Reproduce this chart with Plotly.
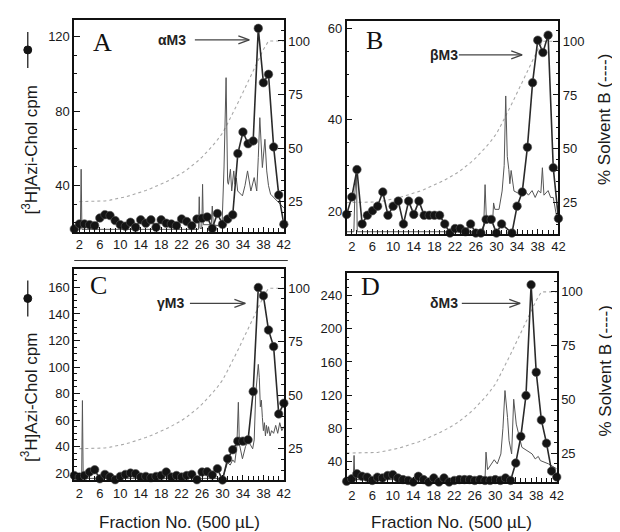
import plotly.graph_objects as go

# ---------------- data ----------------
fractions = list(range(1, 43))

cpm_A = [16.7, 19.4, 19.4, 19.0, 18.5, 22.6, 24.4, 23.9, 21.2, 19.0,
         18.2, 20.3, 17.6, 21.6, 19.8, 21.6, 17.6, 21.6, 19.8, 19.4,
         18.5, 22.1, 20.7, 18.5, 22.0, 22.4, 23.2, 17.0, 25.0, 19.2,
         22.0, 24.3, 57.2, 68.8, 62.5, 64.0, 124.5, 95.3, 99.8, 60.8,
         35.0, 19.2]
cpm_B = [19.3, 23.1, 29.1, 17.2, 19.1, 20.1, 21.1, 24.2, 19.1, 21.1,
         22.2, 17.2, 22.2, 19.3, 22.2, 19.1, 19.1, 19.1, 19.1, 17.2,
         15.2, 16.2, 16.2, 15.5, 17.2, 15.2, 15.2, 18.2, 18.2, 15.2,
         17.2, None, 15.2, 21.1, 24.2, 34.0, 48.1, 57.4, 54.7, 58.5,
         29.5, 18.4]
cpm_C = [18.2, 17.0, 18.2, 20.8, 22.5, 15.7, 19.0, 17.0, 15.0, 17.5,
         19.0, 20.0, 19.5, 17.0, 17.5, 16.5, 17.5, 18.2, 20.8, 17.0,
         18.2, 17.0, 18.2, 19.0, 15.0, 20.8, 21.0, 18.5, 23.3, 14.8,
         30.8, 37.6, 44.1, 44.1, 45.1, 81.5, 160.0, 153.7, 127.9, 115.4,
         64.6, 72.7]
cpm_D = [16, 19, 25, 22, 21, 17, 21, 20, 23, 24,
         20, 18, 17, 15, 22, 18, 15, 20, 15, 20,
         15, 17, 18, 18, 18, 17, 18, 17, 17, 18,
         17, 20, 17, 38, 70.1, 119.5, 253.3, 147.6, 90.1, 62,
         28.3, 21.1]

solvent_B = [25, 25, 25, 25, 25, 25, 25.3, 25.7, 26.1, 26.6,
             27.2, 27.9, 28.6, 29.3, 30.2, 31.1, 32.1, 33.1, 34.3, 35.5,
             36.8, 38.2, 39.8, 41.6, 43.6, 45.8, 48.2, 50.9, 53.8, 57.0,
             61.5, 66.0, 71.0, 76.0, 81.0, 86.0, 91.0, 96.0, 100, 100,
             100, 100]

abs_A_x = [1, 2.2, 2.35, 2.5, 25.3, 25.45, 25.6, 25.95, 26.1, 26.25, 27.8, 28.0, 28.2,
           29.9, 30.3, 30.7, 31.0, 31.16, 31.55, 31.8, 32.2, 32.45, 32.7, 32.97,
           33.9, 34.4, 34.9, 35.2, 35.55, 36.2, 36.7, 37.0, 37.3, 37.8, 38.3, 38.65,
           39.0, 39.4, 40.4, 41.4, 42.0]
abs_A_y = [16.5, 16.5, 48.8, 16.5, 16.5, 34, 17, 17, 40.7, 19, 19, 29, 19,
           18, 50, 98, 42, 40.7, 48.8, 37.1, 47.9, 40.7, 44, 37.1,
           34.5, 40, 47.9, 42, 37.1, 44.3, 37.1, 55, 76.5, 49.7, 64.9, 47.9,
           40, 35.4, 32.7, 30, 28]

abs_B_x = [1, 2.4, 2.6, 2.9, 3.05, 27.5, 27.8, 28.05, 29.3, 29.45, 29.7, 30.5,
           31.1, 31.5, 31.8, 32.1, 32.4, 32.6, 32.85, 33.1, 33.4, 34.3, 35.0, 35.5,
           36.2, 36.9, 37.5, 38.1, 38.6, 38.9, 39.2, 40.0, 40.5, 41.0, 41.7, 42.0]
abs_B_y = [15.5, 15.5, 24, 29, 15.5, 15.5, 25.8, 18.5, 18.5, 21.8, 20.4, 20.4,
           24.4, 30, 45.2, 32, 29.1, 26, 28.9, 27, 24.4, 23.9, 23.5, 24.5,
           23.5, 24.5, 23.0, 24.5, 24.0, 29.5, 23.5, 24.5, 23.0, 23.0, 18.5, 18.0]

abs_C_x = [1, 2.45, 2.6, 2.75, 30.0, 30.5, 31.0, 31.5, 32.0, 32.4, 32.8, 33.1, 33.3, 33.9,
           34.5, 35.0, 35.4, 35.9, 36.2, 36.5, 37.0, 37.2, 37.4, 37.6, 37.8, 38.0,
           38.2, 38.4, 38.6, 38.8, 39.0, 39.3, 39.6, 40.0, 40.4, 40.8, 41.2, 41.6, 42.0]
abs_C_y = [16, 16, 74.7, 16, 16, 22, 28, 26, 30, 28, 40, 73.4, 42, 30.8,
           40, 44.5, 42, 38.3, 45, 80, 102, 92, 70, 75, 62, 52,
           58, 48, 56, 50, 55, 48, 52, 50, 56, 50, 58, 52, 55]

abs_D_x = [1, 2.3, 2.45, 2.6, 28.0, 28.2, 28.5, 28.8, 29.8, 30.4, 31.1, 31.5, 31.9, 32.4,
           32.7, 33.2, 33.6, 34.1, 34.6, 35.2, 36.2, 37.2, 37.8, 38.4, 38.8, 40.4, 42.0]
abs_D_y = [18, 18, 47.2, 18, 18, 51.2, 30, 33, 42, 37, 49, 80, 125.5, 93,
           65, 49, 115, 85, 71, 57, 53, 49, 43, 46, 41, 37, 31]

panel_letters = ["A", "B", "C", "D"]
peak_labels = ["αM3", "βM3", "γM3", "δM3"]

# ---------------- layout helpers ----------------
W, H = 620, 532
def px(x):
    return x / W
def py(y):
    return 1 - y / H

# frame boxes in pixels: (left, top, right, bottom)
boxes = [(67, 12, 279, 224), (342.5, 13, 556.7, 226),
         (67, 261, 279, 473), (342.5, 265, 555, 475)]
left_ranges = [[15.3, 129], [15.1, 61.6], [14.7, 174.3], [15, 268]]
left_dtick = [40, 20, 20, 40]
left_minor = [10, 5, 5, 10]
right_ranges = [[11, 109.8], [10.6, 109.4], [10.3, 109.2], [11.5, 109]]
grad_start = [2, 1, 2, 1]

cpms = [cpm_A, cpm_B, cpm_C, cpm_D]
abs_x = [abs_A_x, abs_B_x, abs_C_x, abs_D_x]
abs_y = [abs_A_y, abs_B_y, abs_C_y, abs_D_y]

FONT = "Liberation Sans, Arial, sans-serif"
fig = go.Figure()
layout = dict(width=W, height=H, margin=dict(l=0, r=0, t=0, b=0),
              paper_bgcolor="white", plot_bgcolor="white", showlegend=False,
              font=dict(family=FONT, size=13, color="#1a1a1a"))

for i in range(4):
    xa = "x" if i == 0 else f"x{i+1}"
    yr = f"y{2*i+1}" if i > 0 else "y"      # right axis (base)
    yl = f"y{2*i+2}"                         # left axis (overlay)
    l, t, r, b = boxes[i]
    xkey = "xaxis" if i == 0 else f"xaxis{i+1}"
    yrkey = "yaxis" if i == 0 else f"yaxis{2*i+1}"
    ylkey = f"yaxis{2*i+2}"
    layout[xkey] = dict(domain=[px(l), px(r)], range=[1, 42], anchor=yr,
                        tick0=2, dtick=4, ticks="inside", ticklen=5, tickwidth=1.2,
                        tickcolor="#111", showline=True, linewidth=1.6, linecolor="#111",
                        mirror=True, showgrid=False, zeroline=False,
                        tickfont=dict(size=13, family=FONT),
                        minor=dict(dtick=1, tick0=1, ticks="inside", ticklen=4,
                                   tickwidth=1, tickcolor="#111"))
    layout[yrkey] = dict(domain=[py(b), py(t)], range=right_ranges[i], anchor=xa,
                         side="right", tick0=0, dtick=25, ticks="inside", ticklen=6,
                         tickwidth=1.2, tickcolor="#111", showline=True, linewidth=1.6,
                         linecolor="#111", showgrid=False, zeroline=False,
                         tickfont=dict(size=13, family=FONT),
                         minor=dict(dtick=5, tick0=0, ticks="inside", ticklen=3,
                                    tickwidth=1, tickcolor="#111"))
    layout[ylkey] = dict(overlaying=yr, range=left_ranges[i], anchor=xa, side="left",
                         tick0=0, dtick=left_dtick[i], ticks="inside", ticklen=6,
                         tickwidth=1.2, tickcolor="#111", showline=True, linewidth=1.6,
                         linecolor="#111", showgrid=False, zeroline=False,
                         tickfont=dict(size=13, family=FONT),
                         minor=dict(dtick=left_minor[i], tick0=0, ticks="inside",
                                    ticklen=3, tickwidth=1, tickcolor="#111"))

    s = grad_start[i]
    fig.add_trace(go.Scatter(x=fractions[s-1:], y=solvent_B[s-1:], mode="lines",
                             line=dict(color="#a8a8a8", width=1.1, dash="dot"),
                             xaxis=xa, yaxis=yr))
    fig.add_trace(go.Scatter(x=abs_x[i], y=abs_y[i], mode="lines",
                             line=dict(color="#555", width=1),
                             xaxis=xa, yaxis=yl))
    fig.add_trace(go.Scatter(x=fractions, y=cpms[i], mode="lines+markers",
                             connectgaps=True, cliponaxis=False,
                             line=dict(color="#2a2a2a", width=1.6),
                             marker=dict(size=8.5, color="#141414",
                                         line=dict(color="#555", width=0.6)),
                             xaxis=xa, yaxis=yl))

annotations = []
shapes = []

letter_pos = [(96, 35), (371, 33), (92, 278), (367, 279)]
label_pos = [(166, 32), (441, 47), (164, 296), (441, 296)]
arrow_pos = [(189, 244, 32), (456, 520, 47), (184, 240, 296), (459, 518, 296)]
for i in range(4):
    lx, ly = letter_pos[i]
    annotations.append(dict(text=panel_letters[i], x=px(lx), y=py(ly), xref="paper",
                            yref="paper", showarrow=False, xanchor="center",
                            yanchor="middle",
                            font=dict(family="Liberation Serif, Times New Roman, serif",
                                      size=26, color="#111")))
    tx, ty = label_pos[i]
    annotations.append(dict(text="<b>" + peak_labels[i] + "</b>", x=px(tx), y=py(ty),
                            xref="paper", yref="paper", showarrow=False,
                            xanchor="center", yanchor="middle",
                            font=dict(family=FONT, size=14, color="#222")))
    x0, x1, ay = arrow_pos[i]
    lc = dict(color="#444", width=1.3)
    shapes.append(dict(type="line", xref="paper", yref="paper", x0=px(x0), x1=px(x1),
                       y0=py(ay), y1=py(ay), line=lc))
    shapes.append(dict(type="line", xref="paper", yref="paper", x0=px(x1 - 11), x1=px(x1),
                       y0=py(ay - 4), y1=py(ay), line=lc))
    shapes.append(dict(type="line", xref="paper", yref="paper", x0=px(x1 - 11), x1=px(x1),
                       y0=py(ay + 4), y1=py(ay), line=lc))

# axis titles
for cy, my, l0, l1 in [(142, 42, 24, 60), (390, 291, 273, 309)]:
    annotations.append(dict(text="[<sup>3</sup>H]Azi-Chol cpm", x=px(22), y=py(cy),
                            xref="paper", yref="paper", showarrow=False, textangle=-90,
                            xanchor="center", yanchor="middle",
                            font=dict(family=FONT, size=17, color="#1a1a1a")))
    shapes.append(dict(type="line", xref="paper", yref="paper", x0=px(20), x1=px(20),
                       y0=py(l0), y1=py(l1), line=dict(color="#222", width=1.3)))
    shapes.append(dict(type="circle", xref="paper", yref="paper", x0=px(16), x1=px(24),
                       y0=py(my - 4), y1=py(my + 4), fillcolor="#141414",
                       line=dict(color="#141414", width=1)))
for cy in [112, 364]:
    annotations.append(dict(text="% Solvent B (----)", x=px(604), y=py(cy),
                            xref="paper", yref="paper", showarrow=False, textangle=-90,
                            xanchor="center", yanchor="middle",
                            font=dict(family=FONT, size=17, color="#1a1a1a")))
for cx in [173, 449]:
    annotations.append(dict(text="Fraction No. (500 µL)", x=px(cx), y=py(515),
                            xref="paper", yref="paper", showarrow=False,
                            xanchor="center", yanchor="middle",
                            font=dict(family=FONT, size=17, color="#1a1a1a")))
# remnant line of the cropped title under panel A
shapes.append(dict(type="line", xref="paper", yref="paper", x0=px(67), x1=px(283),
                   y0=py(253), y1=py(253), line=dict(color="#333", width=1)))

layout["annotations"] = annotations
layout["shapes"] = shapes
fig.update_layout(**layout)
fig.write_html("out.html")
